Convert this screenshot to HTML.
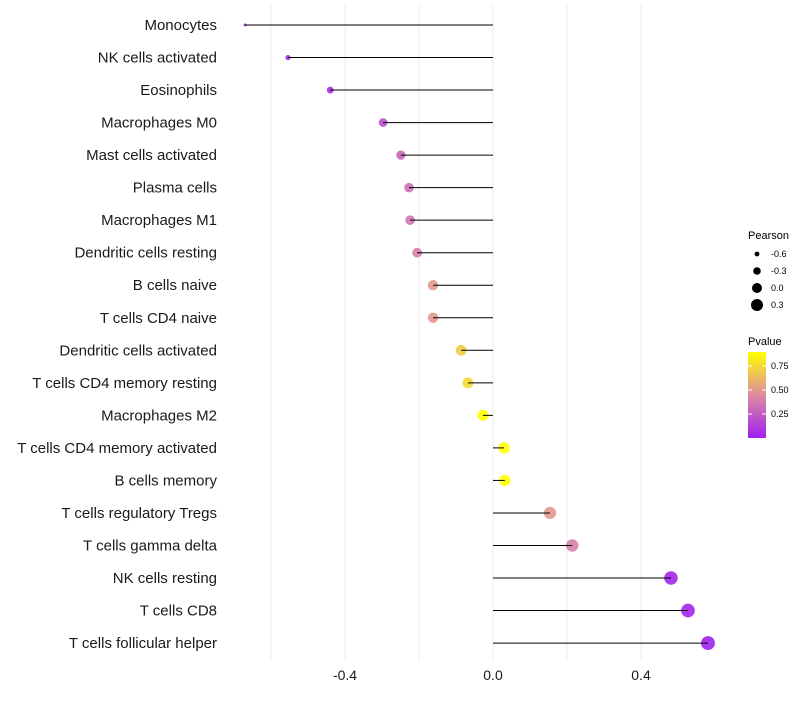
<!DOCTYPE html>
<html><head><meta charset="utf-8"><style>
body{margin:0;background:#fff;font-family:"Liberation Sans",sans-serif}
</style></head><body>
<svg id="c" width="800" height="700" font-family="Liberation Sans, sans-serif"></svg>
<script>
const categories=["Monocytes","NK cells activated","Eosinophils","Macrophages M0","Mast cells activated","Plasma cells","Macrophages M1","Dendritic cells resting","B cells naive","T cells CD4 naive","Dendritic cells activated","T cells CD4 memory resting","Macrophages M2","T cells CD4 memory activated","B cells memory","T cells regulatory  Tregs ","T cells gamma delta","NK cells resting","T cells CD8","T cells follicular helper"];
const pearson=[-0.670,-0.554,-0.44,-0.297,-0.249,-0.227,-0.224,-0.205,-0.162,-0.162,-0.086,-0.068,-0.027,0.030,0.032,0.154,0.214,0.481,0.527,0.581];
const pvalues=[0.01,0.03,0.06,0.2,0.3,0.33,0.35,0.4,0.5,0.5,0.7,0.75,0.9,0.9,0.9,0.5,0.4,0.04,0.03,0.02];
const xTicks=[-0.4,0.0,0.4];
const xTickLabels=["-0.4","0.0","0.4"];
const gridVals=[-0.6,-0.4,-0.2,0,0.2,0.4];
const sizeLegend=[-0.6,-0.3,0.0,0.3];
const colorLegend=[0.25,0.5,0.75];
const NS="http://www.w3.org/2000/svg",svg=document.getElementById('c');
function el(t,a,p){const e=document.createElementNS(NS,t);for(const k in a)e.setAttribute(k,a[k]);(p||svg).appendChild(e);return e;}
const xs=v=>493+v*370, ys=i=>25+i*32.53;
const rKnots=[[-0.7,1.3],[-0.67,1.5],[-0.55,2.6],[-0.44,3.4],[-0.3,4.3],[-0.16,5.2],[0.03,5.7],[0.15,6.1],[0.6,7.0]];
function rs(v){for(let i=1;i<rKnots.length;i++){const[a,ra]=rKnots[i-1],[b,rb]=rKnots[i];if(v<=b)return ra+(rb-ra)*(v-a)/(b-a);}return 7;}
function lerp(a,b,t){return a.map((x,i)=>Math.round(x+(b[i]-x)*t));}
function col(p){const t=Math.max(0,Math.min(1,(p-0.01)/0.885));const s=[[160,32,240],[222,140,160],[255,255,0]];
 const c=t<0.5?lerp(s[0],s[1],t*2):lerp(s[1],s[2],(t-0.5)*2);return `rgb(${c})`;}
gridVals.forEach(v=>{const g=el('line',{x1:xs(v),x2:xs(v),y1:5,y2:660,stroke:'#ebebeb','stroke-width':1});
});
categories.forEach((c,i)=>{
 const t=el('text',{x:217,y:ys(i)+5,'text-anchor':'end','font-size':15,fill:'#1a1a1a'});t.textContent=c;
 
 const d=el('circle',{cx:xs(pearson[i]),cy:ys(i),r:rs(pearson[i]),fill:col(pvalues[i]),opacity:0.9});
 
 const l=el('line',{x1:xs(0),x2:xs(pearson[i]),y1:ys(i),y2:ys(i),stroke:'#000','stroke-width':1});
 
});
xTicks.forEach((v,i)=>{const t=el('text',{x:xs(v),y:680,'text-anchor':'middle','font-size':14,fill:'#1a1a1a'});t.textContent=xTickLabels[i];
 });
let t=el('text',{x:748,y:239,'font-size':11});t.textContent='Pearson';

const legR=[2.4,3.8,5.0,6.0];
sizeLegend.forEach((v,i)=>{const y=254+i*17;
 const c=el('circle',{cx:757,cy:y,r:legR[i],fill:'#000'});
 const s=el('text',{x:771,y:y+3,'font-size':9});s.textContent=v.toFixed(1);});
t=el('text',{x:748,y:345,'font-size':11});t.textContent='Pvalue';

const defs=el('defs',{});const gr=el('linearGradient',{id:'g',x1:0,y1:1,x2:0,y2:0},defs);
[[0,0.01],[0.5,0.45],[1,0.896]].forEach(([o,p])=>el('stop',{offset:o,'stop-color':col(p)},gr));
const bar=el('rect',{x:748,y:352,width:18,height:86,fill:'url(#g)'});

colorLegend.forEach(p=>{const y=437-(p-0.01)*96;
 el('line',{x1:748,x2:752,y1:y,y2:y,stroke:'#fff'});el('line',{x1:762,x2:766,y1:y,y2:y,stroke:'#fff'});
 const s=el('text',{x:771,y:y+3,'font-size':9});s.textContent=p.toFixed(2);});
</script>
</body></html>
